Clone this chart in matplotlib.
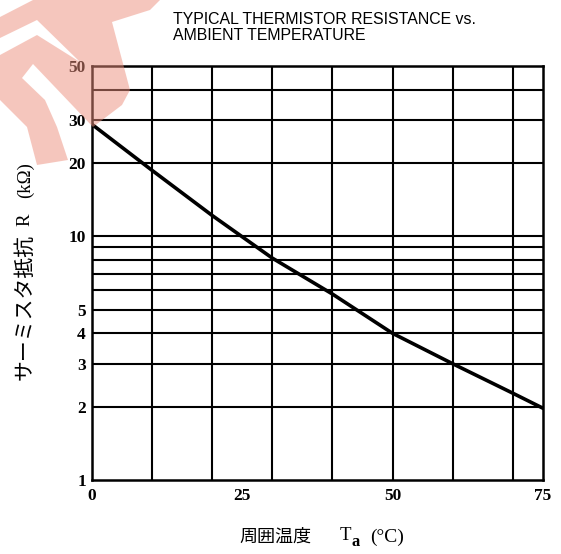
import matplotlib
matplotlib.use("Agg")
import matplotlib.pyplot as plt
from matplotlib.path import Path
from matplotlib.patches import PathPatch

# data
temp_c = [0, 10, 20, 30, 40, 50, 60, 70, 75]
resist_k = [28.9, 18.7, 12.2, 8.15, 5.8, 4.0, 3.0, 2.27, 1.97]

x_labels = [0, 25, 50, 75]
x_grid = [10, 20, 30, 40, 50, 60, 70]
y_grid = [2, 3, 4, 5, 6, 7, 8, 9, 10, 20, 30, 40]
y_labels = [1, 2, 3, 4, 5, 10, 20, 30, 50]

W, H = 561, 554
fig = plt.figure(figsize=(W / 100, H / 100), dpi=100)
ax = fig.add_axes([91.5 / W, 1 - 480 / H, (543 - 91.5) / W, (480 - 66) / H])

ax.set_yscale("log")
ax.set_xlim(0, 75)
ax.set_ylim(1, 50)

for x in x_grid:
    ax.axvline(x, color="black", lw=1.5, zorder=1)
for y in y_grid:
    ax.axhline(y, color="black", lw=1.5, zorder=1)

ax.plot(temp_c, resist_k, color="black", lw=2.6, zorder=3)

for s in ax.spines.values():
    s.set_linewidth(1.8)

tick_font = dict(family="Liberation Serif", weight="bold", size=12.5)
ax.set_xticks(x_labels)
ax.set_xticklabels([str(v) for v in x_labels], fontdict=tick_font)
ax.yaxis.set_minor_locator(matplotlib.ticker.NullLocator())
ax.set_yticks(y_labels)
ax.set_yticklabels([str(v) for v in y_labels], fontdict=tick_font)
ax.tick_params(axis="y", length=0, pad=4)
ax.tick_params(axis="x", length=0, pad=6)

fig.text(173 / W, 1 - 12 / H, "TYPICAL THERMISTOR RESISTANCE vs.\nAMBIENT TEMPERATURE",
         ha="left", va="top", family="Liberation Sans", fontsize=11.4, linespacing=1.12)

cjk = ["Noto Sans CJK JP", "DejaVu Sans"]
serif = "Liberation Serif"

# y label, written bottom to top
fig.text(25 / W, 1 - 307 / H, "サーミスタ抵抗", rotation=90, ha="center",
         va="center", family=cjk, fontsize=15)
fig.text(25 / W, 1 - 220 / H, "R", rotation=90, ha="center", va="center",
         family=serif, fontsize=13.5)
fig.text(25 / W, 1 - 180 / H, "(kΩ)", rotation=90, ha="center", va="center",
         family=serif, fontsize=13.5)

# x label
fig.text(275 / W, 1 - 537 / H, "周囲温度", ha="center", va="center", family=cjk, fontsize=13)
fig.text(340 / W, 1 - 536 / H, "T", ha="left", va="center", family=serif, fontsize=13.5)
fig.text(352 / W, 1 - 542 / H, "a", ha="left", va="center", family=serif,
         fontsize=12, weight="bold")
fig.text(370 / W, 1 - 537 / H, "(°C)", ha="left", va="center", family=serif, fontsize=14)


# red watermark fragment in the top-left corner (pixel coords, y down)
def px(pts):
    return [(x / W, 1 - y / H) for x, y in pts]


shapes = [
    [(0, 17), (33, 0), (160, 0), (150, 10), (112, 22), (130, 90), (80, 62), (37, 20), (0, 38)],
    [(0, 55), (37, 35), (80, 62), (130, 90), (122, 105), (93, 127), (33, 64), (22, 78),
     (45, 100), (57, 127), (68, 160), (37, 165), (27, 127), (0, 100)],
]
paths = [Path(px(s + [s[0]]), closed=True) for s in shapes]
fig.add_artist(PathPatch(Path.make_compound_path(*paths), facecolor=(0.93, 0.56, 0.49),
                         alpha=0.5, lw=0, transform=fig.transFigure, zorder=10))

fig.savefig("out.png", dpi=100, facecolor="white")
